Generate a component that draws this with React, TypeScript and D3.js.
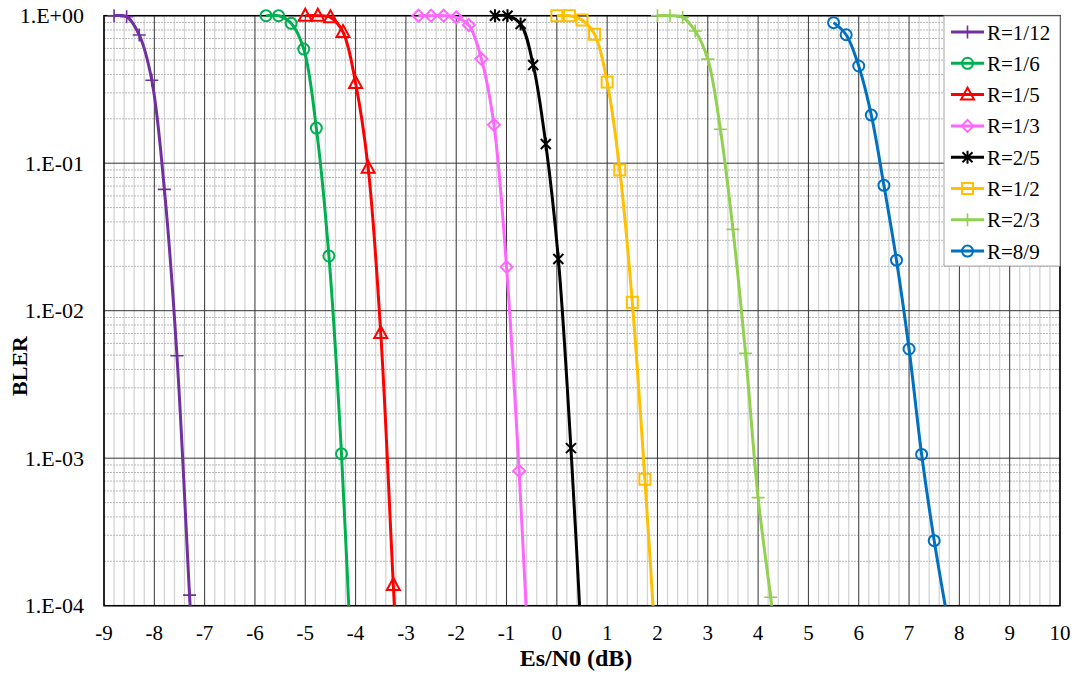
import React from "react";
import * as d3 from "d3";

const seriesNames = ["R=1/12", "R=1/6", "R=1/5", "R=1/3", "R=2/5", "R=1/2", "R=2/3", "R=8/9"];
const seriesColors = ["#7030A0", "#00B050", "#FF0000", "#FF66FF", "#000000", "#FFC000", "#92D050", "#0070C0"];
const seriesMarkers = ["plus", "circle", "triangle", "diamond", "star", "square", "plus", "circle"];

const r1_12_x = [-8.8, -8.55, -8.3, -8.05, -7.8, -7.55, -7.3, -7.05];
const r1_12_y = [1, 0.985, 0.74, 0.365, 0.0665, 0.00495, 1.18e-4, 2.8e-6];
const r1_6_x = [-5.78, -5.53, -5.28, -5.03, -4.78, -4.53, -4.28, -4.03];
const r1_6_y = [1, 1, 0.888, 0.594, 0.173, 0.0235, 0.00107, 1.5e-5];
const r1_5_x = [-5.0, -4.75, -4.5, -4.25, -4.0, -3.75, -3.5, -3.25, -3.0];
const r1_5_y = [1, 1, 0.975, 0.775, 0.35, 0.093, 0.00706, 1.38e-4, 2.7e-6];
const r1_3_x = [-2.75, -2.5, -2.25, -2.0, -1.75, -1.5, -1.25, -1.0, -0.75, -0.5];
const r1_3_y = [1, 1, 1, 0.975, 0.865, 0.51, 0.182, 0.0198, 8.2e-4, 1.6e-5];
const r2_5_x = [-1.23, -0.98, -0.72, -0.47, -0.22, 0.03, 0.28, 0.53];
const r2_5_y = [1, 1, 0.878, 0.463, 0.135, 0.0224, 1.17e-3, 3.1e-5];
const r1_2_x = [0, 0.25, 0.5, 0.75, 1.0, 1.25, 1.5, 1.75, 2.0];
const r1_2_y = [1, 1, 0.935, 0.748, 0.355, 0.09, 0.0114, 7.2e-4, 3.3e-5];
const r2_3_x = [2.0, 2.25, 2.5, 2.75, 3.0, 3.25, 3.5, 3.75, 4.0, 4.25, 4.5];
const r2_3_y = [1, 1, 0.975, 0.787, 0.508, 0.17, 0.0356, 5.14e-3, 5.4e-4, 1.14e-4, 2.4e-5];
const r8_9_x = [5.5, 5.75, 6.0, 6.25, 6.5, 6.75, 7.0, 7.25, 7.5, 7.75];
const r8_9_y = [0.897, 0.743, 0.456, 0.212, 0.0708, 0.022, 5.5e-3, 1.06e-3, 2.76e-4, 8.7e-5];

const seriesX = [r1_12_x, r1_6_x, r1_5_x, r1_3_x, r2_5_x, r1_2_x, r2_3_x, r8_9_x];
const seriesY = [r1_12_y, r1_6_y, r1_5_y, r1_3_y, r2_5_y, r1_2_y, r2_3_y, r8_9_y];

const xTicks = [-9, -8, -7, -6, -5, -4, -3, -2, -1, 0, 1, 2, 3, 4, 5, 6, 7, 8, 9, 10];
const yTicks = [1, 1e-1, 1e-2, 1e-3, 1e-4];
const yTickLabels = ["1.E+00", "1.E-01", "1.E-02", "1.E-03", "1.E-04"];

const W = 1077, H = 675;
const L = 104, R = 1060, T = 15.7, B = 605.7;
const FONT = "'Liberation Serif', 'Times New Roman', serif";

function Marker({ type, color, x, y }: { type: string; color: string; x: number; y: number }) {
  const t = `translate(${x},${y})`;
  const common = { fill: "none", stroke: color, strokeWidth: 2 };
  if (type === "plus") return <path transform={t} d="M-6.5,0H6.5M0,-6.5V6.5" stroke={color} strokeWidth={1.6} fill="none" />;
  if (type === "circle") return <circle transform={t} r={5.5} {...common} />;
  if (type === "triangle") return <path transform={t} d="M0,-7L6.5,5H-6.5Z" {...common} />;
  if (type === "diamond") return <path transform={t} d="M0,-6L6,0L0,6L-6,0Z" {...common} />;
  if (type === "square") return <rect transform={t} x={-5.5} y={-5.5} width={11} height={11} {...common} />;
  if (type === "star") return <path transform={t} d="M-5,-5L5,5M-5,5L5,-5M0,-6.5V6.5" stroke={color} strokeWidth={2} fill="none" />;
  return null;
}

export default function App() {
  const x = d3.scaleLinear().domain([-9, 10]).range([L, R]);
  const y = d3.scaleLog().domain([1e-4, 1]).range([B, T]);

  const minorX: number[] = d3.range(-9, 10.001, 0.2).map((v) => Math.round(v * 10) / 10).filter((v) => Math.abs(v - Math.round(v)) > 1e-6);
  const minorY: number[] = [];
  for (let e = -4; e < 0; e++) for (let k = 2; k <= 9; k++) minorY.push(k * Math.pow(10, e));

  const line = d3
    .line<[number, number]>()
    .x((d) => x(d[0]))
    .y((d) => y(d[1]))
    .curve(d3.curveCatmullRom.alpha(0.5));

  const legendX = 944, legendY = 16, legendW = 116, legendH = 250;
  const legendStep = 31.3;

  return (
    <svg width={W} height={H} style={{ position: "absolute", left: 0, top: 0, background: "#fff" }} fontFamily={FONT}>
      <defs>
        <clipPath id="plotClip">
          <rect x={L} y={T - 2} width={R - L} height={B - T + 2} />
        </clipPath>
      </defs>
      <rect x={0} y={0} width={W} height={H} fill="#fff" />
      {minorX.map((v, i) => (
        <line key={"mx" + i} x1={x(v)} x2={x(v)} y1={T} y2={B} stroke="#d4d4d4" strokeWidth={1.3} />
      ))}
      {minorY.map((v, i) => (
        <line key={"my" + i} x1={L} x2={R} y1={y(v)} y2={y(v)} stroke="#b8b8b8" strokeWidth={1} strokeDasharray="2,1" />
      ))}
      {xTicks.map((v) => (
        <line key={"Mx" + v} x1={x(v)} x2={x(v)} y1={T} y2={B} stroke="#333" strokeWidth={1} />
      ))}
      {yTicks.map((v) => (
        <line key={"My" + v} x1={L} x2={R} y1={y(v)} y2={y(v)} stroke="#333" strokeWidth={1} />
      ))}
      <rect x={L} y={T} width={R - L} height={B - T} fill="none" stroke="#000" strokeWidth={1.5} />

      {seriesNames.map((name, si) => {
        const pts: [number, number][] = seriesX[si].map((xv, i) => [xv, seriesY[si][i]]);
        return (
          <g key={name}>
            <path d={line(pts) || ""} fill="none" stroke={seriesColors[si]} strokeWidth={3} clipPath="url(#plotClip)" />
            {pts
              .filter((p) => p[1] >= 1e-4)
              .map((p, i) => (
                <Marker key={i} type={seriesMarkers[si]} color={seriesColors[si]} x={x(p[0])} y={y(p[1])} />
              ))}
          </g>
        );
      })}

      {yTicks.map((v, i) => (
        <text key={"yl" + v} x={84} y={y(v)} dy="0.35em" textAnchor="end" fontSize={22} fill="#000">
          {yTickLabels[i]}
        </text>
      ))}
      {xTicks.map((v) => (
        <text key={"xl" + v} x={x(v)} y={640} textAnchor="middle" fontSize={21} fill="#000">
          {v}
        </text>
      ))}
      <text x={576} y={666} textAnchor="middle" fontSize={24} fontWeight="bold" fill="#000">
        Es/N0 (dB)
      </text>
      <text transform={`translate(27,366) rotate(-90)`} textAnchor="middle" fontSize={22} fontWeight="bold" fill="#000">
        BLER
      </text>

      <rect x={legendX} y={legendY} width={legendW} height={legendH} fill="#fff" stroke="#a6a6a6" strokeWidth={1} />
      {seriesNames.map((name, si) => {
        const cy = legendY + 16 + si * legendStep;
        return (
          <g key={"lg" + name}>
            <line x1={951} x2={984} y1={cy} y2={cy} stroke={seriesColors[si]} strokeWidth={3} />
            <Marker type={seriesMarkers[si]} color={seriesColors[si]} x={967.5} y={cy} />
            <text x={987} y={cy + 7.5} fontSize={21} fill="#000">
              {name}
            </text>
          </g>
        );
      })}
    </svg>
  );
}
